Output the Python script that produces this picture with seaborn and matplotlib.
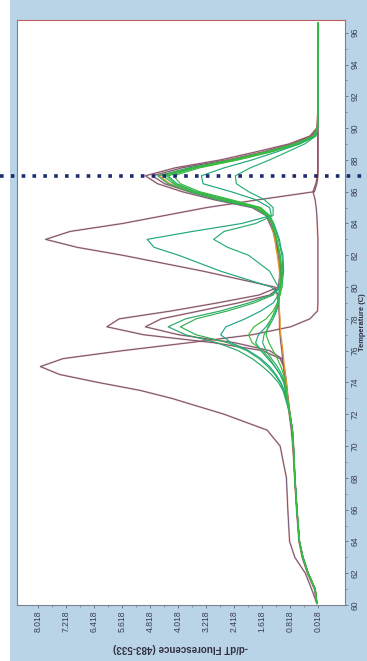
import matplotlib
matplotlib.use("Agg")
import matplotlib.pyplot as plt
import matplotlib.transforms as mtransforms
from matplotlib.patches import Rectangle
import seaborn as sns

sns.set_style("white")
plt.rcParams["font.family"] = ["Liberation Sans", "DejaVu Sans"]

# melt curve data: temperature (C) and -d/dT fluorescence
temp = [60.1, 61, 62, 63, 64, 66, 68, 70, 71, 72,
        73, 73.5, 74, 74.5, 75, 75.5, 76, 76.5, 77, 77.5,
        78, 78.5, 79, 79.5, 80, 81, 82, 82.5, 83, 83.5,
        84, 84.5, 85, 85.5, 86, 86.5, 87, 87.5, 88, 88.5,
        89, 89.5, 90, 91, 93, 96.6]

low = [0.05, 0.1, 0.3, 0.45, 0.55, 0.62, 0.68, 0.72, 0.75, 0.82]

r1 = [0.05, 0.2, 0.38, 0.68, 0.83, 0.88, 0.92, 1.1, 1.47, 2.7,
      4.2, 5.1, 6.3, 7.4, 7.95, 7.3, 5.6, 3.7, 1.9, 0.8,
      0.25, 0.03, 0.02, 0.02, 0.02, 0.02, 0.02, 0.02, 0.02, 0.03,
      0.04, 0.05, 0.07, 0.1, 0.16, 0.08, 0.03, 0.02, 0.02, 0.02,
      0.02, 0.02, 0.02, 0.02, 0.02, 0.02]
b = [0.05, 0.12, 0.32, 0.47, 0.56, 0.63, 0.68, 0.74, 0.78, 0.84,
     0.9, 0.93, 0.96, 0.98, 1.0, 1.03, 1.05, 1.08, 1.1, 1.12,
     1.12, 1.13, 1.15, 1.18, 1.25, 3.3, 5.6, 6.9, 7.8, 7.1,
     5.6, 4.4, 3.2, 1.7, 0.12, 0.05, 0.02, 0.02, 0.02, 0.02,
     0.02, 0.02, 0.02, 0.02, 0.02, 0.02]
c = low + [0.88, 0.9, 0.93, 0.96, 1.0, 1.1, 1.6, 3.0, 5.0, 6.05,
           5.7, 4.2, 2.9, 1.7, 1.15, 1.1, 1.15, 1.2, 1.25, 1.3,
           1.4, 1.5, 1.9, 3.0, 3.9, 4.6, 4.95, 4.1, 2.8, 1.8,
           0.85, 0.25, 0.05, 0.02, 0.02, 0.01]
d = low + [0.87, 0.9, 0.92, 0.95, 0.98, 1.05, 1.4, 2.4, 4.0, 4.95,
           4.5, 3.4, 2.3, 1.4, 1.1, 1.08, 1.12, 1.18, 1.22, 1.28,
           1.35, 1.45, 1.75, 2.8, 3.7, 4.4, 4.75, 3.9, 2.6, 1.6,
           0.75, 0.2, 0.04, 0.02, 0.02, 0.01]
g1 = low + [0.95, 1.02, 1.15, 1.35, 1.6, 1.9, 2.3, 2.9, 3.8, 4.3,
            3.8, 2.8, 2.0, 1.35, 1.1, 1.05, 1.1, 1.15, 1.2, 1.28,
            1.35, 1.5, 1.85, 2.9, 3.7, 4.3, 4.6, 3.7, 2.5, 1.5,
            0.7, 0.15, 0.04, 0.02, 0.02, 0.01]
g2 = low + [0.93, 1.0, 1.1, 1.25, 1.45, 1.7, 2.05, 2.6, 3.5, 3.95,
            3.5, 2.6, 1.85, 1.3, 1.1, 1.02, 1.05, 1.1, 1.15, 1.22,
            1.3, 1.45, 1.8, 2.75, 3.6, 4.15, 4.45, 3.6, 2.45, 1.45,
            0.65, 0.12, 0.03, 0.02, 0.02, 0.01]
g3 = low + [0.92, 0.98, 1.08, 1.22, 1.4, 1.65, 2.0, 2.5, 2.8, 2.65,
            2.1, 1.65, 1.3, 1.15, 1.05, 1.0, 1.02, 1.08, 1.12, 1.2,
            1.28, 1.4, 1.7, 2.6, 3.5, 4.05, 4.3, 3.5, 2.35, 1.4,
            0.6, 0.1, 0.03, 0.02, 0.02, 0.01]
g4 = low + [0.9, 0.95, 1.0, 1.1, 1.25, 1.4, 1.6, 1.9, 2.0, 1.85,
            1.5, 1.3, 1.18, 1.1, 1.05, 1.05, 1.1, 1.15, 1.2, 1.25,
            1.3, 1.4, 1.65, 2.5, 3.4, 3.95, 4.15, 3.4, 2.3, 1.35,
            0.55, 0.08, 0.03, 0.02, 0.02, 0.01]
g5 = low + [0.9, 0.94, 0.98, 1.1, 1.25, 1.45, 1.65, 1.8, 1.72, 1.5,
            1.35, 1.22, 1.15, 1.12, 1.35, 2.8, 4.0, 4.7, 4.9, 3.6,
            2.2, 1.35, 1.4, 1.8, 2.5, 3.3, 3.35, 2.7, 1.9, 1.2,
            0.55, 0.1, 0.03, 0.02, 0.02, 0.01]
g6 = low + [0.9, 0.93, 0.96, 1.05, 1.18, 1.35, 1.5, 1.6, 1.56, 1.42,
            1.3, 1.2, 1.15, 1.12, 1.15, 1.4, 2.0, 2.6, 3.0, 2.7,
            1.8, 1.3, 1.3, 1.55, 2.0, 2.35, 2.38, 1.95, 1.4, 0.9,
            0.4, 0.08, 0.03, 0.02, 0.02, 0.01]
g7 = low + [0.9, 0.92, 0.95, 1.0, 1.08, 1.18, 1.3, 1.42, 1.5, 1.45,
            1.35, 1.25, 1.18, 1.12, 1.1, 1.1, 1.12, 1.15, 1.2, 1.25,
            1.32, 1.42, 1.7, 2.7, 3.55, 4.1, 4.35, 3.55, 2.4, 1.45,
            0.62, 0.12, 0.03, 0.02, 0.02, 0.01]
o1 = low + [0.88, 0.9, 0.92, 0.95, 0.98, 1.0, 1.02, 1.05, 1.08, 1.1,
            1.1, 1.12, 1.12, 1.12, 1.1, 1.12, 1.18, 1.22, 1.25, 1.3,
            1.35, 1.45, 1.75, 2.8, 3.65, 4.25, 4.55, 3.65, 2.5, 1.5,
            0.7, 0.15, 0.04, 0.02, 0.02, 0.01]

red_curves = [r1, b, c, d]
green_curves = [g1, g2, g3, g4, g5, g6, g7]
green_colors = ["#2aa86a", "#30b050", "#1fa58a", "#3cb83c", "#20a878", "#28b070", "#38c038"]

temp_ticks = list(range(60, 97, 2))
fl_ticks = [0.018, 0.818, 1.618, 2.418, 3.218, 4.018, 4.818, 5.618, 6.418, 7.218, 8.018]

bg = "#b9d3e7"
fig = plt.figure(figsize=(3.67, 6.61), dpi=100, facecolor=bg)
fig.add_artist(Rectangle((0, 0), 10 / 367, 1, transform=fig.transFigure,
                         facecolor="white", edgecolor="none", zorder=0))
ax = fig.add_axes([17 / 367, 1 - 605 / 661, 328 / 367, 585 / 661])
ax.set_facecolor("white")

for vals in red_curves:
    sns.lineplot(x=vals, y=temp, orient="y", sort=False, estimator=None,
                 color="#d94a4a", lw=1.3, alpha=0.45, ax=ax)
    sns.lineplot(x=vals, y=temp, orient="y", sort=False, estimator=None,
                 color="#5a5270", lw=0.6, ax=ax)
sns.lineplot(x=o1, y=temp, orient="y", sort=False, estimator=None,
             color="#e39a2a", lw=0.9, ax=ax)
for vals, col in zip(green_curves, green_colors):
    sns.lineplot(x=vals, y=temp, orient="y", sort=False, estimator=None,
                 color=col, lw=0.85, ax=ax)

ax.set_xlim(8.618, -0.754)
ax.set_ylim(60, 96.8)
ax.set_xlabel("")
ax.set_ylabel("")

ax.yaxis.tick_right()
ax.set_yticks(temp_ticks)
ax.set_yticklabels([str(t) for t in temp_ticks], rotation=90, va="center")
ax.set_yticks(list(range(61, 97, 2)), minor=True)
ax.set_xticks(fl_ticks)
ax.set_xticklabels([f"{v:.3f}" for v in fl_ticks], rotation=90)
ax.set_xticks([v + 0.4 for v in fl_ticks[:-1]], minor=True)
ax.tick_params(axis="both", which="major", direction="out", length=2.5, width=0.6,
               color="#607080", labelsize=6.2, labelcolor="#3a4050", pad=1.2)
ax.tick_params(axis="both", which="minor", direction="out", length=1.3, width=0.5,
               color="#607080")
ax.tick_params(axis="y", which="both", left=False, right=True)
ax.tick_params(axis="x", which="both", bottom=True, top=False)

for side in ["left", "right", "bottom"]:
    ax.spines[side].set_color("#7a8090")
    ax.spines[side].set_linewidth(0.8)
ax.spines["top"].set_color("#c06060")
ax.spines["top"].set_linewidth(0.8)

# dotted marker line at 87 C across the whole figure
trans = mtransforms.blended_transform_factory(fig.transFigure, ax.transData)
ax.plot([0, 1], [87, 87], transform=trans, clip_on=False, color="#1c2b6b",
        lw=2.6, linestyle=(0, (1, 2.0)), dash_capstyle="butt", zorder=10)

fig.text(180 / 367, 1 - 648 / 661, "-d/dT Fluorescence (483-533)", rotation=180,
         ha="center", va="center", fontsize=7, fontweight="bold", color="#303040")
fig.text(363 / 367, 1 - 322 / 661, "Temperature (C)", rotation=90,
         ha="center", va="center", fontsize=5.4, fontweight="bold", color="#303040")

fig.savefig("out.png", dpi=100, facecolor=bg)
